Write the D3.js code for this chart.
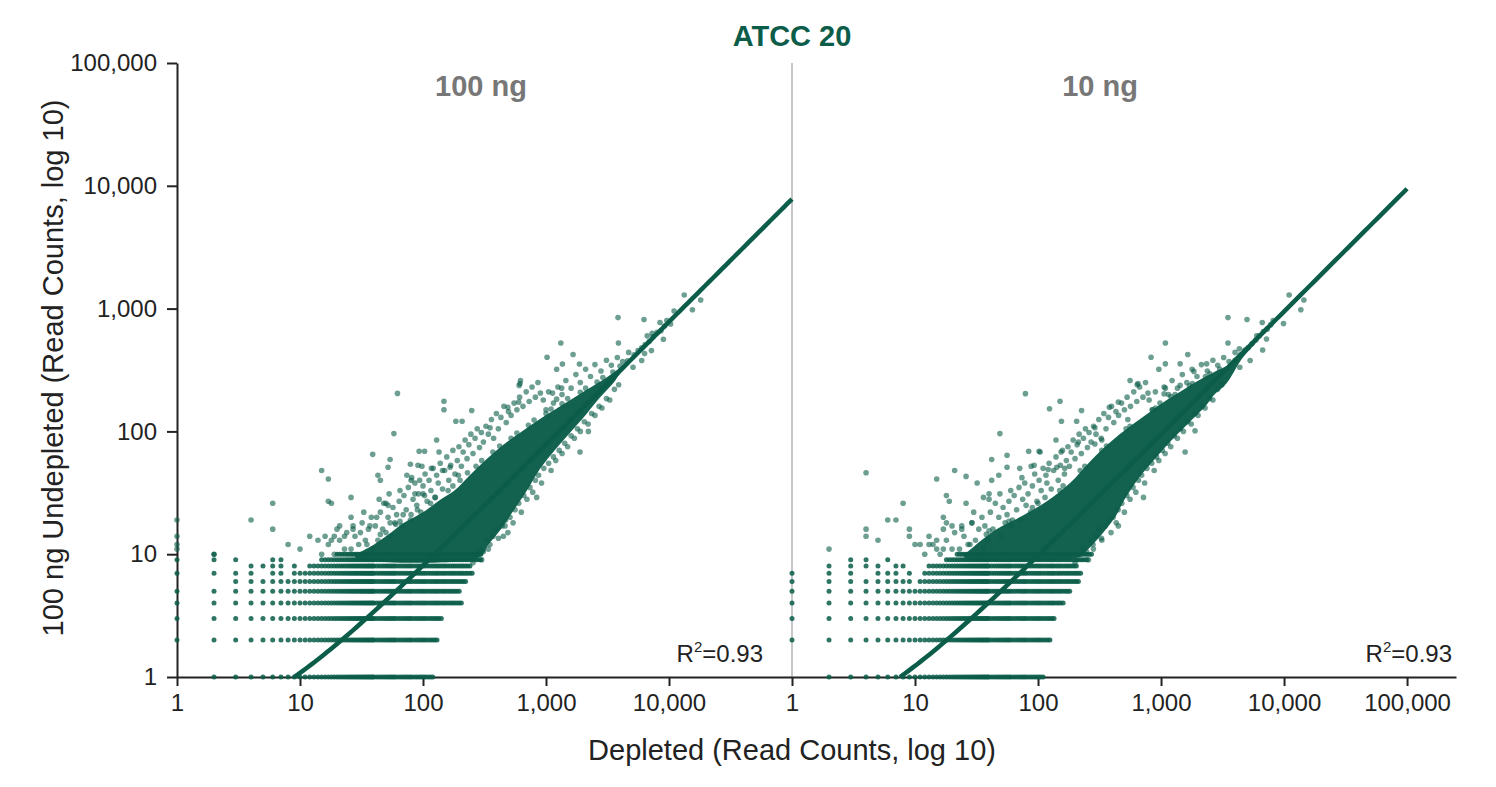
<!DOCTYPE html>
<html>
<head>
<meta charset="utf-8">
<title>ATCC 20</title>
<script src="https://d3js.org/d3.v7.min.js"></script>
<style>
body { margin: 0; background: white; }
svg { display: block; font-family: "Liberation Sans", Arial, Helvetica, sans-serif; }
.axis path, .axis line { stroke: #222; stroke-width: 2; }
.axis text { font-size: 24px; fill: #222; }
</style>
</head>
<body>
<svg id="chart" width="1496" height="787"></svg>
<script>
// ---- data ----
var title = "ATCC 20";
var panelNames = ["100 ng", "10 ng"];
var rSquared = ["0.93", "0.93"];
var yTicks = [1, 10, 100, 1000, 10000, 100000];
var xTicksLeft = [1, 10, 100, 1000, 10000];
var xTicksRight = [1, 10, 100, 1000, 10000, 100000];

// linear fit y = slope * x + intercept, drawn on the log-log axes
var fitSlope = [0.078, 0.0946];
var fitIntercept = [0.3, 0.286];

// integer read counts that the low-count rows sit on
var countSteps = [10, 11, 12, 13, 14, 15, 16, 17, 18, 19, 20, 21, 22, 23, 24, 25, 26, 27, 28, 29,
  30, 31, 32, 33, 34, 35, 36, 37, 38, 39, 40, 42, 44, 46, 48, 50, 52, 54, 56, 58, 60, 63, 66, 69,
  72, 75, 78, 81, 85, 89, 93, 97, 101, 105, 110, 115, 120, 125, 130, 135, 141, 147, 153, 160, 167,
  174, 181, 189, 197, 205, 213, 222, 231, 241, 251, 261, 272, 283, 295, 307, 320];

// rows of genes with 1..10 undepleted reads: [y, single low counts, dense from, dense to]
var rows100 = [
  [1, [2, 3, 4, 5, 6, 7, 8, 9], 10, 120],
  [2, [1, 2, 3, 4, 5, 6, 7, 8, 9], 10, 130],
  [3, [1, 2, 3, 4, 5, 6, 7, 8, 9], 10, 142],
  [4, [1, 2, 3, 4, 5, 6, 7, 8, 9], 10, 210],
  [5, [1, 2, 3, 4, 5, 6, 7, 8, 9], 10, 200],
  [6, [3, 4, 5, 6, 7, 8, 9], 10, 230],
  [7, [1, 2, 3, 4, 6, 7, 9], 10, 255],
  [8, [4, 5, 6, 7, 9], 12, 250],
  [9, [1, 2, 3, 6, 7], 15, 300],
  [10, [2], 20, 300]
];
var rows10 = [
  [1, [2, 3, 4, 5, 6, 7, 8, 9], 10, 110],
  [2, [1, 2, 3, 4, 5, 6, 7, 8, 9], 10, 129],
  [3, [1, 2, 3, 4, 5, 6, 7, 8, 9], 10, 137],
  [4, [1, 2, 3, 4, 5, 6, 7, 8, 9], 10, 166],
  [5, [1, 2, 3, 4, 5, 6, 7, 8, 9], 10, 188],
  [6, [1, 2, 3, 4, 5, 6, 7, 8, 9], 11, 220],
  [7, [1, 2, 3, 5, 6, 7, 9], 12, 226],
  [8, [2, 3, 4, 5, 7, 8], 13, 206],
  [9, [3, 4, 6], 18, 260],
  [10, [], 22, 280]
];

// outline of the solid, saturated part of each cloud
var core100 = [[28, 9.5], [40, 12], [55, 15], [70, 18], [100, 22], [140, 28], [180, 33], [240, 44],
  [320, 58], [450, 78], [620, 98], [850, 122], [1150, 148], [1600, 182], [2300, 228], [3000, 268],
  [4000, 330], [5500, 435], [7000, 555], [7000, 530], [5500, 410], [4000, 295], [3500, 245],
  [2700, 185], [2150, 140], [1600, 100], [1200, 72], [900, 50], [700, 33], [550, 23], [430, 16],
  [340, 12], [290, 9.5]];
var core10 = [[25, 9.5], [30, 11.5], [46, 16], [71, 20], [118, 27], [182, 38], [265, 57], [410, 86],
  [676, 126], [1040, 172], [1430, 210], [1950, 255], [2600, 298], [3500, 345], [4500, 415],
  [6000, 570], [6000, 545], [4500, 385], [3400, 245], [2660, 195], [2350, 165], [1720, 120],
  [1260, 88], [920, 62], [765, 50], [595, 36], [495, 27], [435, 21], [320, 14], [233, 10], [219, 9.5]];

// individual genes around the solid cloud: [depleted, undepleted]
var cloud100 = [
  // far outliers
  [1, 11], [1, 12], [1, 14], [1, 19], [2, 10], [4, 19], [6, 26], [6, 16], [8, 12], [10, 11],
  [12, 14], [14, 13], [15, 48], [17, 41], [17, 27], [18, 26], [19, 14], [21, 17], [23, 14], [26, 29],
  [26, 20], [27, 17], [31, 15], [37, 17], [39, 65], [42, 20], [43, 44], [45, 40], [48, 26], [52, 25],
  [52, 51], [54, 59], [54, 18], [58, 96], [62, 204], [69, 21], [74, 44], [79, 54], [80, 40], [86, 31],
  [91, 53], [93, 69], [94, 40], [100, 31], [103, 69], [103, 30], [117, 50], [129, 85], [135, 68],
  [144, 48], [148, 176], [148, 150], [166, 51], [185, 121], [194, 44], [208, 121], [249, 148],
  [351, 107], [490, 157], [600, 173], [615, 245], [605, 237], [620, 260], [840, 29], [1020, 402],
  [1130, 205], [1220, 321], [1220, 183], [1320, 525], [1340, 225], [1360, 354], [1660, 423],
  [1870, 354], [1890, 68], [2210, 100], [300, 9], [340, 11], [450, 14], [465, 17],
  [3850, 845], [3880, 525], [5100, 333], [6000, 378], [6260, 815], [6330, 430], [6650, 600],
  [7200, 455], [7300, 630], [8450, 770], [9000, 563], [9600, 800], [10300, 750], [11000, 955],
  [13300, 1290], [15500, 980], [18100, 1175],
  // upper-left fringe
  [15, 10], [17, 12], [19, 10], [21, 13], [23, 11], [16, 14], [20, 16], [24, 15], [18, 13],
  [26, 11], [28, 14], [30, 12], [32, 18], [34, 13], [36, 16], [38, 20], [27, 16], [33, 22], [39, 11],
  [41, 17], [43, 13], [45, 22], [47, 16], [50, 26], [52, 20], [55, 14], [57, 24], [59, 18], [44, 28],
  [53, 31], [61, 21], [64, 27], [67, 17], [70, 30], [73, 23], [76, 35], [79, 19], [83, 28], [86, 38],
  [89, 25], [65, 33], [81, 42], [92, 31], [96, 22], [100, 36], [104, 45], [108, 27], [112, 40],
  [116, 33], [121, 50], [126, 29], [129, 44], [98, 52], [133, 38], [138, 55], [144, 34], [150, 48],
  [156, 62], [162, 40], [168, 53], [175, 70], [182, 45], [190, 58], [196, 75], [205, 52], [212, 68],
  [220, 85], [228, 60], [236, 78], [245, 95], [255, 66], [265, 88], [276, 105], [288, 74], [298, 98],
  [310, 82], [325, 110], [340, 95], [360, 125], [375, 88], [395, 140], [410, 105], [430, 130],
  [455, 160], [475, 118], [495, 145], [520, 135], [550, 170], [580, 150], [610, 190], [650, 160],
  [690, 210], [730, 175], [770, 230], [820, 190], [860, 250], [900, 205],
  // hugging the upper edge of the core
  [45, 14.5], [60, 17.5], [80, 21], [115, 26], [160, 33], [200, 40], [270, 52], [370, 68], [520, 88],
  [720, 112], [1000, 140], [1350, 168], [1900, 208], [2600, 252], [3500, 305], [4600, 375],
  [35, 12], [50, 15], [65, 18.5], [90, 23], [125, 29], [175, 36], [230, 46], [300, 58], [420, 76],
  [580, 97], [800, 124], [1100, 152], [1500, 185], [2100, 225], [2900, 275], [4000, 340],
  // lower-right fringe
  [255, 8.5], [270, 10], [290, 11], [310, 10.5], [330, 13], [350, 12], [370, 14], [390, 16],
  [410, 13.5], [440, 17], [470, 19], [490, 15], [510, 20], [540, 18], [560, 23], [600, 26], [630, 22],
  [660, 30], [700, 28], [740, 35], [780, 32], [820, 40], [870, 44], [920, 38], [960, 50], [1050, 55],
  [1100, 48], [1150, 62], [1200, 58], [1280, 70], [1350, 66], [1420, 80], [1500, 75], [1600, 92],
  [1700, 88], [1800, 105], [1900, 100], [2050, 120], [2200, 115], [2350, 140], [2500, 135],
  [2700, 160], [2850, 155], [3100, 185], [3300, 180], [3600, 220], [3900, 240],
  // above the upper part of the core
  [950, 180], [1000, 150], [1050, 210], [1150, 170], [1250, 230], [1350, 200], [1450, 260],
  [1600, 225], [1750, 290], [1900, 250], [2100, 320], [2300, 280], [2500, 350], [2800, 310],
  [3100, 380], [3400, 345], [3800, 400], [4200, 370], [4700, 440], [5200, 420],
  // strand along the fit
  [5600, 455], [6000, 480], [6400, 510], [6900, 540], [7400, 590], [8000, 640], [8600, 660], [9200, 720]
];
var cloud10 = [
  // far outliers
  [2, 11], [4, 14], [4, 16], [4, 46], [5, 13], [6, 19], [7, 19], [8, 26], [9, 14], [9, 16], [10, 12],
  [11, 12], [13, 12], [15, 11], [15, 41], [17, 11], [17, 20], [18, 18], [18, 30], [19, 27], [20, 17],
  [21, 48], [24, 17], [26, 26], [26, 43], [29, 18], [32, 38], [36, 29], [40, 31], [42, 40], [42, 59],
  [48, 44], [49, 96], [56, 51], [56, 64], [71, 50], [79, 203], [84, 69], [93, 53], [102, 69],
  [104, 68], [121, 49], [124, 153], [140, 85], [142, 51], [151, 176], [154, 68], [155, 121],
  [165, 50], [206, 121], [213, 82], [226, 148], [290, 107], [290, 79], [330, 85], [257, 9], [282, 11],
  [330, 13], [380, 157], [450, 173], [450, 17], [537, 125], [560, 260], [640, 240], [650, 245],
  [720, 29], [830, 402], [960, 321], [1060, 202], [1085, 525], [1085, 355], [1085, 225], [1430, 355],
  [1430, 237], [1570, 68], [1650, 423], [1850, 308], [1890, 101], [2350, 355],
  [3500, 845], [3500, 525], [4330, 470], [4370, 333], [5000, 815], [5300, 378], [6000, 600],
  [6650, 770], [6700, 460], [7200, 565], [8150, 800], [9900, 755], [11000, 1290], [13700, 980],
  [14500, 1175],
  // upper-left fringe
  [12, 10], [14, 12], [16, 10], [18, 13], [20, 11], [13, 14], [17, 16], [21, 15], [15, 13],
  [23, 11], [25, 14], [27, 12], [29, 18], [31, 13], [33, 16], [35, 20], [24, 16], [30, 22], [36, 11],
  [37, 17], [39, 13], [41, 22], [43, 16], [45, 26], [48, 20], [50, 14], [52, 24], [54, 18], [40, 28],
  [49, 31], [56, 21], [58, 27], [61, 17], [64, 30], [67, 23], [70, 35], [72, 19], [75, 28], [78, 38],
  [80, 25], [60, 33], [74, 42], [83, 31], [87, 22], [90, 36], [94, 45], [98, 27], [102, 40],
  [106, 33], [110, 50], [114, 29], [116, 44], [88, 52], [118, 38], [123, 55], [128, 34], [134, 48],
  [140, 62], [146, 40], [152, 53], [158, 70], [164, 45], [170, 58], [175, 75], [180, 52], [186, 68],
  [193, 85], [200, 60], [208, 78], [216, 95], [225, 66], [234, 88], [243, 105], [252, 74], [260, 98],
  [270, 82], [283, 110], [296, 95], [312, 125], [326, 88], [343, 140], [357, 105], [374, 130],
  [396, 160], [413, 118], [430, 145], [452, 135], [478, 170], [504, 150], [530, 190], [565, 160],
  [600, 210], [635, 175], [670, 230], [713, 190], [748, 250], [783, 205],
  // hugging the upper edge of the core
  [38, 14.5], [58, 18.5], [90, 24], [150, 33], [220, 48], [330, 70], [520, 105], [850, 150],
  [1200, 192], [1700, 235], [2300, 280], [3000, 322], [4000, 380],
  [28, 12], [40, 15.5], [62, 19], [100, 26], [160, 36], [240, 52], [360, 76], [560, 110], [900, 155],
  [1300, 200], [1800, 245], [2500, 295],
  // lower-right fringe
  [200, 8.5], [215, 10], [232, 11], [248, 10.5], [265, 13], [280, 12], [296, 14], [312, 16],
  [328, 13.5], [352, 17], [376, 19], [392, 15], [408, 20], [432, 18], [448, 23], [480, 26], [504, 22],
  [528, 30], [560, 28], [592, 35], [624, 32], [656, 40], [696, 44], [736, 38], [768, 50], [840, 55],
  [880, 48], [920, 62], [960, 58], [1024, 70], [1080, 66], [1136, 80], [1200, 75], [1280, 92],
  [1360, 88], [1440, 105], [1520, 100], [1640, 120], [1760, 115], [1880, 140], [2000, 135],
  [2160, 160], [2280, 155], [2480, 185], [2640, 180], [2880, 220], [3120, 240],
  // above the upper part of the core
  [800, 180], [850, 150], [900, 210], [980, 170], [1060, 230], [1150, 200], [1230, 260], [1360, 225],
  [1490, 290], [1620, 250], [1790, 320], [1960, 280], [2130, 350], [2380, 310], [2640, 380],
  [2890, 345], [3230, 400], [3570, 370], [4000, 440], [4400, 420],
  // strand along the fit
  [4800, 460], [5100, 480], [5500, 520], [5900, 555], [6300, 600], [6800, 650], [7300, 680], [7800, 740]
];

// ---- drawing ----
var green = "#0b5d49";
var svg = d3.select("#chart");

var y = d3.scaleLog().domain([1, 100000]).range([677, 63]);
var xLeft = d3.scaleLog().domain([1, 100000]).range([177, 792]);
var xRight = d3.scaleLog().domain([1, 250000]).range([792, 1456]);

var panels = [
  { name: panelNames[0], x: xLeft, ticks: xTicksLeft, rows: rows100, core: core100, cloud: cloud100,
    slope: fitSlope[0], icpt: fitIntercept[0], r2: rSquared[0], labelX: 481, r2X: 763 },
  { name: panelNames[1], x: xRight, ticks: xTicksRight, rows: rows10, core: core10, cloud: cloud10,
    slope: fitSlope[1], icpt: fitIntercept[1], r2: rSquared[1], labelX: 1100, r2X: 1452 }
];

// divider between the panels
svg.append("line")
  .attr("x1", xRight(1)).attr("x2", xRight(1))
  .attr("y1", y(100000)).attr("y2", y(1))
  .attr("stroke", "#b3b3b3").attr("stroke-width", 1.5);

// axes
svg.append("g").attr("class", "axis")
  .attr("transform", "translate(" + xLeft(1) + ",0)")
  .call(d3.axisLeft(y).tickValues(yTicks).tickFormat(d3.format(","))
    .tickSize(10).tickSizeOuter(0).tickPadding(10));

panels.forEach(function (p) {
  svg.append("g").attr("class", "axis")
    .attr("transform", "translate(0," + y(1) + ")")
    .call(d3.axisBottom(p.x).tickValues(p.ticks).tickFormat(d3.format(","))
      .tickSize(9).tickSizeOuter(0).tickPadding(8));
});

panels.forEach(function (p) {
  var g = svg.append("g");

  // low-count rows
  var rowPts = [];
  p.rows.forEach(function (r) {
    r[1].forEach(function (v) { rowPts.push([v, r[0]]); });
    countSteps.forEach(function (v) { if (v >= r[2] && v <= r[3]) rowPts.push([v, r[0]]); });
  });
  g.selectAll("circle.row").data(rowPts).enter().append("circle")
    .attr("class", "row")
    .attr("cx", function (d) { return p.x(d[0]); })
    .attr("cy", function (d) { return y(d[1]); })
    .attr("r", 2.5)
    .attr("fill", green).attr("fill-opacity", 0.85);

  // dense core of the cloud
  g.append("path")
    .datum(p.core)
    .attr("d", d3.line().curve(d3.curveCatmullRomClosed)
      .x(function (d) { return p.x(d[0]); })
      .y(function (d) { return y(d[1]); }))
    .attr("fill", green).attr("fill-opacity", 0.97);

  // scattered genes
  g.selectAll("circle.pt").data(p.cloud).enter().append("circle")
    .attr("class", "pt")
    .attr("cx", function (d) { return p.x(d[0]); })
    .attr("cy", function (d) { return y(d[1]); })
    .attr("r", 2.8)
    .attr("fill", green).attr("fill-opacity", 0.6);

  // regression line
  var xStart = (1 - p.icpt) / p.slope;
  var lx = d3.range(0, 121).map(function (i) {
    return Math.pow(10, Math.log10(xStart) + (5 - Math.log10(xStart)) * i / 120);
  });
  g.append("path")
    .datum(lx)
    .attr("d", d3.line()
      .x(function (d) { return p.x(d); })
      .y(function (d) { return y(p.slope * d + p.icpt); }))
    .attr("fill", "none").attr("stroke", green).attr("stroke-width", 4.5);

  // panel label
  svg.append("text")
    .attr("x", p.labelX).attr("y", 96)
    .attr("text-anchor", "middle")
    .attr("font-size", 29).attr("font-weight", "bold")
    .attr("fill", "#777")
    .text(p.name);

  // R squared
  var rt = svg.append("text")
    .attr("x", p.r2X).attr("y", 662)
    .attr("text-anchor", "end")
    .attr("font-size", 24).attr("fill", "#222");
  rt.append("tspan").text("R");
  rt.append("tspan").attr("font-size", 15).attr("dy", -10).text("2");
  rt.append("tspan").attr("dy", 10).text("=" + p.r2);
});

// titles
svg.append("text")
  .attr("x", 792).attr("y", 46)
  .attr("text-anchor", "middle")
  .attr("font-size", 29).attr("font-weight", "bold")
  .attr("fill", green)
  .text(title);

svg.append("text")
  .attr("x", 792).attr("y", 760)
  .attr("text-anchor", "middle")
  .attr("font-size", 29).attr("fill", "#222")
  .text("Depleted (Read Counts, log 10)");

svg.append("text")
  .attr("transform", "translate(63,368) rotate(-90)")
  .attr("text-anchor", "middle")
  .attr("font-size", 29).attr("fill", "#222")
  .text("100 ng Undepleted (Read Counts, log 10)");
</script>
</body>
</html>
